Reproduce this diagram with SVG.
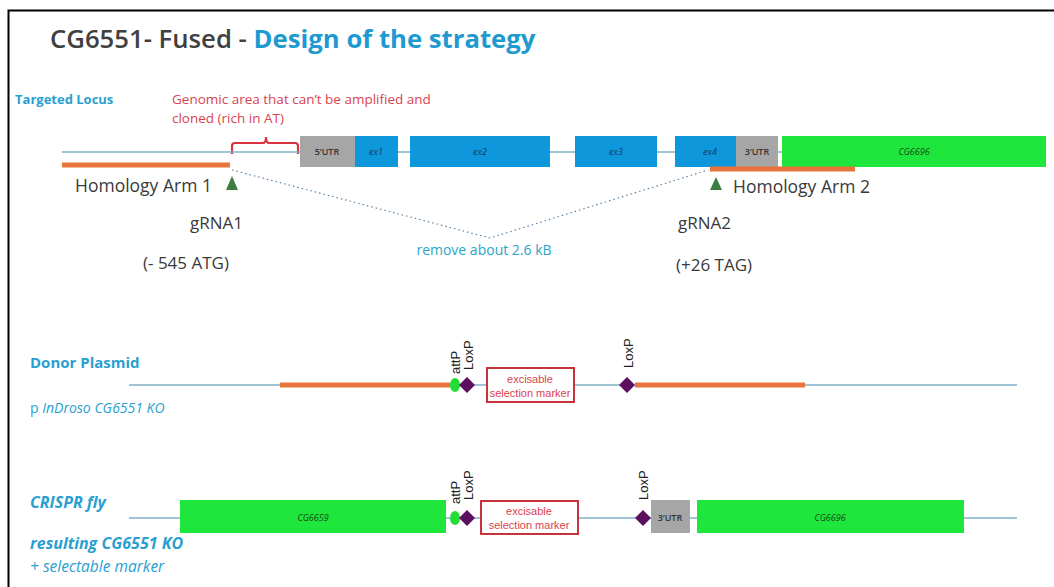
<svg xmlns="http://www.w3.org/2000/svg" width="1054" height="587" viewBox="0 0 1054 587">
<style>
.os{font-family:"Open Sans","Liberation Sans",sans-serif}
.ar{font-family:"Liberation Sans",Arial,sans-serif}
.blue{fill:#2a9fd0}
.dark{fill:#3a3a3a}
.red{fill:#d9434e}
.bb{stroke:#7fb0c8;stroke-width:1.5;fill:none}
.arm{stroke:#e8743b;stroke-width:5;fill:none}
.exon{fill:#0e97da}
.utr{fill:#a6a6a6}
.gene{fill:#1fe63c}
.elab{font-family:"Open Sans","Liberation Sans",sans-serif;font-size:9px;font-style:italic;fill:#123a66;text-anchor:middle}
.ulab{font-family:"Open Sans","Liberation Sans",sans-serif;font-size:9px;font-weight:600;fill:#333;text-anchor:middle}
.glab{font-family:"Open Sans","Liberation Sans",sans-serif;font-size:9px;font-style:italic;fill:#1a4a1a;text-anchor:middle}
.lox{fill:#5c0f5e}
.att{fill:#22dd33}
.tri{fill:#3d7d3f}
.mk{fill:#fff;stroke:#c8323c;stroke-width:2}
.mkt{font-family:"Liberation Sans",Arial,sans-serif;font-size:11px;fill:#d9434e;text-anchor:middle}
.rot{font-family:"Liberation Sans",Arial,sans-serif;font-size:13px;fill:#222}
</style>
<rect x="0" y="0" width="1054" height="587" fill="#fff"/>
<path d="M8.5 587 V10.5 H1054" fill="none" stroke="#000" stroke-width="2"/>

<g id="title">
<text x="50" y="48" class="os" font-size="25.7" font-weight="600"><tspan fill="#404040">CG6551- Fused - </tspan><tspan fill="#1e9ad0" font-weight="700">Design of the strategy</tspan></text>
</g>

<g id="locus-label"><text x="15" y="104" class="os blue" font-size="13" font-weight="700">Targeted Locus</text></g>
<g id="genomic-note">
<text x="172" y="104" class="os red" font-size="13.5">Genomic area that can’t be amplified and</text>
<text x="172" y="123" class="os red" font-size="13.5">cloned (rich in AT)</text>
<path d="M232 154 V146 Q232 143 235 143 H263 Q266 143 266 137 Q266 143 269 143 H295 Q298 143 298 146 V154" fill="none" stroke="#d9343e" stroke-width="2.2"/>
</g>

<g id="connectors">
<line x1="62" y1="152" x2="1046" y2="152" class="bb"/>
<polyline points="232,170 490,238 708,170" fill="none" stroke="#5a86aa" stroke-width="1.2" stroke-dasharray="1.5 3"/>
<line x1="129" y1="385" x2="1017" y2="385" class="bb"/>
<line x1="129" y1="518" x2="1017" y2="518" class="bb"/>
</g>

<g id="utr5"><rect x="300" y="136" width="55" height="31" class="utr"/><text x="327" y="155" class="ulab">5’UTR</text></g>
<g id="ex1"><rect x="355" y="136" width="43" height="31" class="exon"/><text x="376" y="155" class="elab">ex1</text></g>
<g id="ex2"><rect x="410" y="136" width="140" height="31" class="exon"/><text x="480" y="155" class="elab">ex2</text></g>
<g id="ex3"><rect x="575" y="136" width="82" height="31" class="exon"/><text x="616" y="155" class="elab">ex3</text></g>
<g id="ex4"><rect x="675" y="136" width="61" height="31" class="exon"/><text x="710" y="155" class="elab">ex4</text></g>
<g id="utr3"><rect x="736" y="136" width="42" height="31" class="utr"/><text x="757" y="155" class="ulab">3’UTR</text></g>
<g id="cg6696-locus"><rect x="782" y="136" width="264" height="31" class="gene"/><text x="914" y="155" class="glab">CG6696</text></g>

<g id="arm1"><line x1="62" y1="165" x2="230" y2="165" class="arm"/><text x="75" y="192" class="os dark" font-size="17.5">Homology Arm 1</text></g>
<g id="arm2"><line x1="710" y1="169" x2="855" y2="169" class="arm"/><text x="733" y="193" class="os dark" font-size="17.5">Homology Arm 2</text></g>

<g id="grna1"><polygon points="232,176 238,190 226,190" class="tri"/>
<text x="190" y="229" class="os dark" font-size="17">gRNA1</text>
<text x="143" y="269" class="os dark" font-size="17">(- 545 ATG)</text></g>
<g id="grna2"><polygon points="716,177 722,190 710,190" class="tri"/>
<text x="678" y="229" class="os dark" font-size="17">gRNA2</text>
<text x="676" y="271" class="os dark" font-size="17">(+26 TAG)</text></g>

<g id="remove-label"><text x="484" y="255" class="os" font-size="14" fill="#2aa5c8" text-anchor="middle">remove about 2.6 kB</text></g>

<g id="donor-label">
<text x="30" y="368" class="os blue" font-size="15" font-weight="700">Donor Plasmid</text>
<text x="30" y="413" class="os blue" font-size="14">p <tspan font-style="italic">InDroso CG6551 KO</tspan></text>
</g>
<g id="donor-arm1"><line x1="280" y1="385" x2="450" y2="385" class="arm"/></g>
<g id="donor-attp"><ellipse cx="455" cy="385" rx="5" ry="7" class="att"/><text transform="translate(460,374) rotate(-90)" class="rot">attP</text></g>
<g id="donor-loxp1"><polygon points="467,377 475,385 467,393 459,385" class="lox"/><text transform="translate(473,370) rotate(-90)" class="rot">LoxP</text></g>
<g id="donor-marker"><rect x="487" y="368" width="87" height="34" class="mk"/><text x="530" y="383" class="mkt">excisable</text><text x="530" y="397" class="mkt">selection marker</text></g>
<g id="donor-loxp2"><polygon points="627,377 635,385 627,393 619,385" class="lox"/><text transform="translate(633,368) rotate(-90)" class="rot">LoxP</text></g>
<g id="donor-arm2"><line x1="635" y1="385" x2="805" y2="385" class="arm"/></g>

<g id="crispr-label">
<text x="30" y="508" class="os blue" font-size="16" font-weight="700" font-style="italic">CRISPR fly</text>
<text x="30" y="549" class="os blue" font-size="16" font-weight="700" font-style="italic">resulting CG6551 KO</text>
<text x="30" y="572" class="os blue" font-size="15.5" font-style="italic">+ selectable marker</text>
</g>
<g id="cg6659"><rect x="180" y="500" width="266" height="33" class="gene"/><text x="313" y="521" class="glab">CG6659</text></g>
<g id="crispr-attp"><ellipse cx="455" cy="518" rx="5" ry="7" class="att"/><text transform="translate(460,504) rotate(-90)" class="rot">attP</text></g>
<g id="crispr-loxp1"><polygon points="467,510 475,518 467,526 459,518" class="lox"/><text transform="translate(473,500) rotate(-90)" class="rot">LoxP</text></g>
<g id="crispr-marker"><rect x="481" y="501" width="97" height="33" class="mk"/><text x="529" y="515" class="mkt">excisable</text><text x="529" y="529" class="mkt">selection marker</text></g>
<g id="crispr-loxp2"><polygon points="643,510 651,518 643,526 635,518" class="lox"/><text transform="translate(648,500) rotate(-90)" class="rot">LoxP</text></g>
<g id="crispr-utr3"><rect x="651" y="500" width="39" height="33" class="utr"/><text x="670" y="521" class="ulab">3’UTR</text></g>
<g id="crispr-cg6696"><rect x="697" y="500" width="267" height="33" class="gene"/><text x="830" y="521" class="glab">CG6696</text></g>
</svg>
